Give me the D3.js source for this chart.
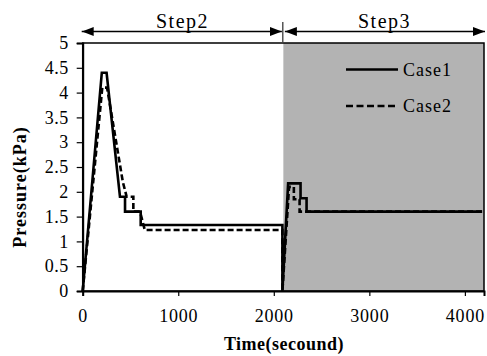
<!DOCTYPE html>
<html>
<head>
<meta charset="utf-8">
<script src="https://cdn.jsdelivr.net/npm/d3@7"></script>
<style>
  html, body { margin: 0; padding: 0; background: #fff; }
  svg { display: block; }
  svg text { font-family: "Liberation Serif", "Times New Roman", serif; }
</style>
</head>
<body>
<svg id="chart" width="487" height="356"></svg>
<script>
// time (s), pressure (kPa)
var case1Time = [0, 200, 250, 390, 443, 443, 607, 607, 2090, 2090, 2150, 2280, 2280, 2343, 2343, 4180];
var case1Value = [0, 4.4, 4.4, 1.9, 1.9, 1.6, 1.6, 1.33, 1.33, 0, 2.17, 2.17, 1.87, 1.87, 1.6, 1.6];
var case2Time = [0, 205, 255, 420, 460, 530, 530, 600, 650, 2090, 2090, 2160, 2210, 2210, 2270, 2270, 4180];
var case2Value = [0, 4.1, 4.1, 2.2, 1.9, 1.9, 1.6, 1.6, 1.23, 1.23, 0, 2.1, 2.1, 1.85, 1.85, 1.6, 1.6];
var seriesNames = ["Case1", "Case2"];
var stepNames = ["Step2", "Step3"];
var stepBounds = [0, 2100, 4200];
var xTicks = [0, 1000, 2000, 3000, 4000];
var yTicks = [0, 0.5, 1, 1.5, 2, 2.5, 3, 3.5, 4, 4.5, 5];

var svg, x, y, line, series, defs, arrowY, legend, dashes;
svg = d3.select('#chart');
x = d3.scaleLinear().domain([0, 4200]).range([82.7, 484]);
y = d3.scaleLinear().domain([0, 5]).range([291, 43]);
dashes = ['none', '6,3'];

series = [
  {name: seriesNames[0], pts: case1Time.map(function(t, i){ return {x: t, y: case1Value[i]}; })},
  {name: seriesNames[1], pts: case2Time.map(function(t, i){ return {x: t, y: case2Value[i]}; })}
];

// shaded Step3 area
svg.append('rect')
  .attr('x', x(stepBounds[1])).attr('y', y(5))
  .attr('width', x(stepBounds[2]) - x(stepBounds[1]))
  .attr('height', y(0) - y(5))
  .attr('fill', '#b3b3b3');

line = d3.line().x(function(d){ return x(d.x); }).y(function(d){ return y(d.y); });

svg.selectAll('path.series').data(series).enter().append('path')
  .attr('class', 'series')
  .attr('d', function(d){ return line(d.pts); })
  .attr('fill', 'none')
  .attr('stroke', '#000')
  .attr('stroke-width', 2.6)
  .attr('stroke-linejoin', 'miter')
  .attr('stroke-dasharray', function(d, i){ return dashes[i]; });

// frame
svg.append('rect')
  .attr('x', x(0)).attr('y', y(5))
  .attr('width', x(4200) - x(0)).attr('height', y(0) - y(5))
  .attr('fill', 'none').attr('stroke', '#000').attr('stroke-width', 1.5);

svg.append('g').attr('transform', 'translate(0,' + y(0) + ')')
  .call(d3.axisBottom(x).tickValues(xTicks).tickSize(5).tickPadding(13).tickFormat(d3.format('d')))
  .call(function(g){
    g.attr('font-family', null).attr('font-size', 18);
    g.select('.domain').attr('stroke-width', 2);
    g.selectAll('.tick line').attr('stroke-width', 1.2);
    g.selectAll('text').attr('letter-spacing', 0.8);
  });

svg.append('g').attr('transform', 'translate(' + x(0) + ',0)')
  .call(d3.axisLeft(y).tickValues(yTicks).tickSize(6).tickPadding(8).tickFormat(function(d){ return String(d); }))
  .call(function(g){
    g.attr('font-family', null).attr('font-size', 18);
    g.select('.domain').attr('stroke-width', 2);
    g.selectAll('.tick line').attr('stroke-width', 1.2);
    g.selectAll('text').attr('letter-spacing', 0.5);
  });

// axis titles
svg.append('text')
  .attr('x', 284).attr('y', 350)
  .attr('text-anchor', 'middle')
  .attr('font-size', 18).attr('font-weight', 'bold').attr('letter-spacing', 0.5)
  .text('Time(secound)');

svg.append('text')
  .attr('transform', 'translate(26,187) rotate(-90)')
  .attr('text-anchor', 'middle')
  .attr('font-size', 18).attr('font-weight', 'bold').attr('letter-spacing', 1)
  .text('Pressure(kPa)');

// step arrows above the plot
defs = svg.append('defs');
defs.append('marker').attr('id', 'arrow')
  .attr('viewBox', '0 0 12 10').attr('refX', 12).attr('refY', 5)
  .attr('markerWidth', 12).attr('markerHeight', 10)
  .attr('markerUnits', 'userSpaceOnUse').attr('orient', 'auto-start-reverse')
  .append('path').attr('d', 'M0,0.5L12,5L0,9.5Z').attr('fill', '#000');

arrowY = 31.5;
svg.selectAll('line.step').data(stepNames).enter().append('line')
  .attr('class', 'step')
  .attr('x1', function(d, i){ return x(stepBounds[i]) + (i ? 1.5 : -1); })
  .attr('x2', function(d, i){ return x(stepBounds[i + 1]) - (i ? -1 : 1.5); })
  .attr('y1', arrowY).attr('y2', arrowY)
  .attr('stroke', '#000').attr('stroke-width', 1.3)
  .attr('marker-start', 'url(#arrow)').attr('marker-end', 'url(#arrow)');

svg.append('line')
  .attr('x1', x(stepBounds[1]) - 0.5).attr('x2', x(stepBounds[1]) - 0.5)
  .attr('y1', 22).attr('y2', 42)
  .attr('stroke', '#000').attr('stroke-width', 1);

svg.selectAll('text.step').data(stepNames).enter().append('text')
  .attr('class', 'step')
  .attr('x', function(d, i){ return i ? 384.5 : 182.5; })
  .attr('y', 27.5)
  .attr('text-anchor', 'middle')
  .attr('font-size', 20).attr('letter-spacing', 1.5)
  .text(function(d){ return d; });

// legend
legend = svg.selectAll('g.legend').data(series).enter().append('g')
  .attr('class', 'legend')
  .attr('transform', function(d, i){ return 'translate(346,' + (69.5 + i * 36.5) + ')'; });
legend.append('line')
  .attr('x1', 0).attr('x2', 52).attr('y1', 0).attr('y2', 0)
  .attr('stroke', '#000').attr('stroke-width', 2.6)
  .attr('stroke-dasharray', function(d, i){ return i ? '7,3.5' : 'none'; });
legend.append('text')
  .attr('x', 57).attr('y', 6)
  .attr('font-size', 18).attr('letter-spacing', 1)
  .text(function(d){ return d.name; });
</script>
</body>
</html>
